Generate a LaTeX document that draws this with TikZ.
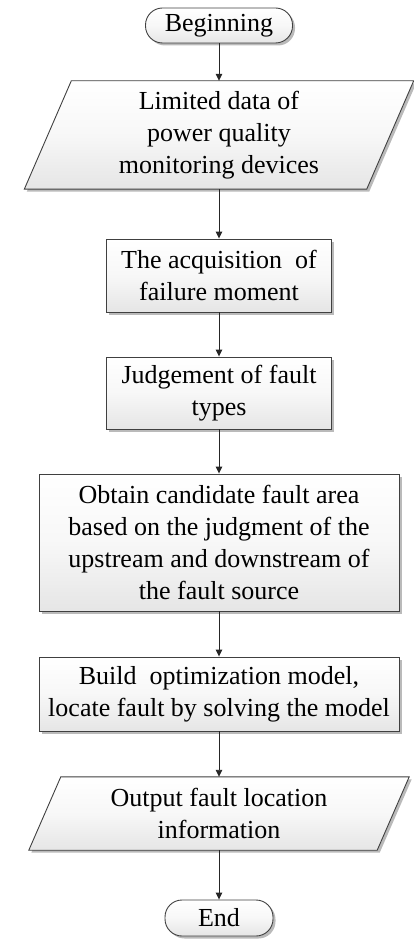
\documentclass[tikz,border=0pt]{standalone}
\usepackage{fontspec}
\setmainfont{Liberation Serif}
\usetikzlibrary{arrows.meta,shadows,calc}
\tikzset{
  boxline/.style={draw=black!75, line width=0.9pt},
  boxfill/.style={top color=white, bottom color=black!10, middle color=black!3},
  shad/.style={drop shadow={shadow xshift=2.5pt, shadow yshift=-2.5pt, fill=black!45, opacity=0.6}},
  procbox/.style={rectangle, boxline, boxfill, shad, align=center, inner sep=0pt,
    font=\fontsize{26}{32}\selectfont},
  termbox/.style={rectangle, rounded corners=17pt, boxline, boxfill, shad, align=center, inner sep=0pt,
    font=\fontsize{26}{32}\selectfont},
  iobox/.style={rectangle, align=center, inner sep=0pt, font=\fontsize{26}{32}\selectfont},
  arr/.style={draw=black!85, line width=0.9pt, -{Triangle[length=7pt,width=6.5pt]}}
}
\begin{document}
\begin{tikzpicture}[x=1pt,y=-1pt]
\useasboundingbox (0,0) rectangle (414,941);
% I/O shapes drawn first (behind text)
\node[iobox, minimum width=342pt, minimum height=108pt] (p1) at (219,135) {};
\path[boxline, boxfill, shad]
  ($(p1.north west)+(23.5,0)$) -- ($(p1.north east)+(23.5,0)$) --
  ($(p1.south east)+(-23.5,0)$) -- ($(p1.south west)+(-23.5,0)$) -- cycle;
\node[iobox] (p1t) at (p1.center) {Limited data of\\power quality\\monitoring devices};

\node[iobox, minimum width=348pt, minimum height=73pt] (p2) at (219,813.5) {};
\path[boxline, boxfill, shad]
  ($(p2.north west)+(16,0)$) -- ($(p2.north east)+(16,0)$) --
  ($(p2.south east)+(-16,0)$) -- ($(p2.south west)+(-16,0)$) -- cycle;
\node[iobox] (p2t) at (p2.center) {Output fault location\\information};

\node[termbox, minimum width=147pt, minimum height=35pt] (beg) at (219,25.5) {Beginning};
\node[procbox, minimum width=225pt, minimum height=73pt] (b2) at (219,275.5) {The acquisition\ \ of\\failure moment};
\node[procbox, minimum width=225pt, minimum height=72pt] (b3) at (219,393) {Judgement of fault\\types};
\node[procbox, minimum width=360pt, minimum height=137pt] (b4) at (219,542.5) {Obtain candidate fault area\\based on the judgment of the\\upstream and downstream of\\the fault source};
\node[procbox, minimum width=360pt, minimum height=74pt] (b5) at (219,694) {Build\ \ optimization model,\\locate fault by solving the model};
\node[termbox, minimum width=108pt, minimum height=36pt] (end) at (219,918) {End};

\draw[arr] (beg.south) -- (p1.north);
\draw[arr] (p1.south) -- (b2.north);
\draw[arr] (b2.south) -- (b3.north);
\draw[arr] (b3.south) -- (b4.north);
\draw[arr] (b4.south) -- (b5.north);
\draw[arr] (b5.south) -- (p2.north);
\draw[arr] (p2.south) -- (end.north);
\end{tikzpicture}
\end{document}
